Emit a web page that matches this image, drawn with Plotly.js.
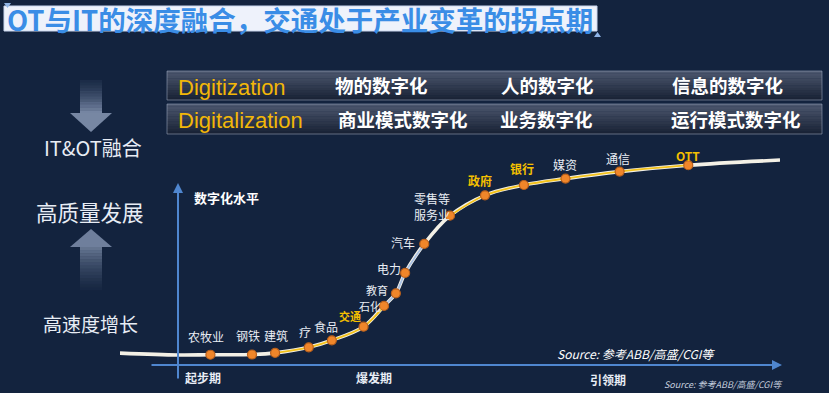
<!DOCTYPE html>
<html><head><meta charset="utf-8">
<script src="https://cdn.plot.ly/plotly-3.0.1.min.js"></script>
<style>html,body{margin:0;padding:0;background:#13233e;}#chart{width:829px;height:393px;}</style>
</head><body><div id="chart"></div>
<script>
// ---------------- DATA ----------------
const titleText = 'OT与IT的深度融合，交通处于产业变革的拐点期';
const rowHeaders = ['Digitization', 'Digitalization'];
const row1Items = ['物的数字化', '人的数字化', '信息的数字化'];
const row2Items = ['商业模式数字化', '业务数字化', '运行模式数字化'];
const leftLabels = ['IT&OT融合', '高质量发展', '高速度增长'];
const axisTitle = '数字化水平';
const stages = ['起步期', '爆发期', '引领期'];
const sourceText = 'Source: 参考ABB/高盛/CGI等';

const industries = ['农牧业', '钢铁', '建筑', '疗', '食品', '交通', '石化', '教育', '电力', '汽车', '零售等<br>服务业', '政府', '银行', '媒资', '通信', 'OTT'];
const industryStage = [13.7, 20.0, 23.5, 28.6, 32.1, 36.9, 40.0, 41.8, 43.2, 46.1, 50.0, 55.3, 61.2, 67.5, 75.7, 86.1];
const industryLevel = [4.5, 4.6, 5.4, 8.1, 11.5, 18.1, 28.2, 34.3, 44.2, 58.3, 72.0, 81.9, 86.9, 90.0, 93.4, 96.5];
const highlighted = ['交通', '政府', '银行', 'OTT'];
const curveStartStage = [0, 8.8];
const curveStartLevel = [5.3, 4.4];
const curveEndStage = [100];
const curveEndLevel = [99.0];

// ---------------- LAYOUT HELPERS ----------------
const W = 829, H = 393;
const X = p => p / W;
const Y = p => 1 - p / H;
const CJK = '"Noto Sans CJK SC", "Noto Sans", sans-serif';

const shapes = [];
const annotations = [];

function hexToRgb(h){h=h.replace('#','');return [parseInt(h.substr(0,2),16),parseInt(h.substr(2,2),16),parseInt(h.substr(4,2),16)];}
function vgrad(x0, x1, y0, y1, c0, c1, a0, a1, n) {
  const r0 = hexToRgb(c0), r1 = hexToRgb(c1);
  for (let i = 0; i < n; i++) {
    const t = n === 1 ? 0 : i / (n - 1);
    const c = r0.map((v, k) => Math.round(v + (r1[k] - v) * t));
    const a = a0 + (a1 - a0) * t;
    const ya = y0 + (y1 - y0) * i / n, yb = y0 + (y1 - y0) * (i + 1) / n + 0.3;
    shapes.push({type: 'rect', xref: 'paper', yref: 'paper', x0: X(x0), x1: X(x1), y0: Y(ya), y1: Y(yb),
      fillcolor: `rgba(${c[0]},${c[1]},${c[2]},${a.toFixed(3)})`, line: {width: 0}, layer: 'below'});
  }
}
function poly(pts, fill, line) {
  const d = pts.map((p, i) => (i ? 'L' : 'M') + X(p[0]).toFixed(5) + ',' + Y(p[1]).toFixed(5)).join(' ') + ' Z';
  shapes.push({type: 'path', xref: 'paper', yref: 'paper', path: d, fillcolor: fill, line: line || {width: 0}, layer: 'below'});
}
function txt(text, x, y, size, color, opts) {
  opts = opts || {};
  annotations.push(Object.assign({text, x: X(x), y: Y(y), xref: 'paper', yref: 'paper', showarrow: false,
    xanchor: opts.xanchor || 'left', yanchor: 'middle',
    font: {family: opts.family || CJK, size, color, weight: opts.weight || 'normal', style: opts.style || 'normal'}}));
}

// Title box
shapes.push({type: 'rect', xref: 'paper', yref: 'paper', x0: X(4), x1: X(597), y0: Y(6), y1: Y(31),
  fillcolor: '#eef2fb', line: {color: '#c9d6ee', width: 1}, layer: 'below'});
poly([[4, 3], [11, 3], [7.5, 8]], '#8fb4e6');
poly([[594, 37], [601, 37], [597.5, 32]], '#8fb4e6');
txt(titleText, 5, 19, 27.5, '#3a8de6', {weight: 'bold'});

// Two header rows
[[71, 100], [104, 134]].forEach(r => {
  vgrad(167, 822, r[0], r[1], '#4b566d', '#1a2336', 1, 1, 12);
  shapes.push({type: 'rect', xref: 'paper', yref: 'paper', x0: X(167), x1: X(822), y0: Y(r[0]), y1: Y(r[1]),
    fillcolor: 'rgba(0,0,0,0)', line: {color: 'rgba(160,172,195,0.55)', width: 1}, layer: 'below'});
});
txt(rowHeaders[0], 176, 87, 22, '#f2b708', {family: '"Liberation Sans", Arial, sans-serif'});
txt(rowHeaders[1], 176, 120, 22, '#f2b708', {family: '"Liberation Sans", Arial, sans-serif'});
const rowX1 = [333, 499, 670], rowX2 = [336, 498, 669];
row1Items.forEach((t, i) => txt(t, rowX1[i], 85, 18.5, '#ffffff', {weight: 'bold'}));
row2Items.forEach((t, i) => txt(t, rowX2[i], 119, 18.5, '#ffffff', {weight: 'bold'}));

// Left arrows
vgrad(80, 102, 80, 113, '#2a3a58', '#7585a2', 0.4, 1, 12);
poly([[70, 113], [112, 113], [91, 132]], '#7787a3');
poly([[70, 247], [112, 247], [91, 229]], '#6f7f9c');
vgrad(80, 102, 247, 290, '#64748f', '#1c2c48', 1, 0.5, 14);

txt(leftLabels[0], 93, 147, 20, '#e8edf5', {xanchor: 'center'});
txt(leftLabels[1], 90, 211, 21.5, '#e8edf5', {xanchor: 'center'});
txt(leftLabels[2], 90, 323, 19, '#e8edf5', {xanchor: 'center'});

// Axes with arrowheads
const axisColor = '#4f86cf';
annotations.push({x: X(178), y: Y(183), xref: 'paper', yref: 'paper', ax: 0, ay: 197, text: '', showarrow: true,
  arrowhead: 2, arrowsize: 1, arrowwidth: 2, arrowcolor: axisColor, standoff: 0, startstandoff: 0});
annotations.push({x: X(782), y: Y(365), xref: 'paper', yref: 'paper', ax: -632, ay: 0, text: '', showarrow: true,
  arrowhead: 2, arrowsize: 1, arrowwidth: 2, arrowcolor: axisColor, standoff: 0, startstandoff: 0});

txt(axisTitle, 192, 197, 13, '#ffffff', {weight: 'bold'});
const stageX = [203, 374, 608], stageY = [377, 377, 379];
stages.forEach((s, i) => txt(s, stageX[i], stageY[i], 12, '#e8edf5', {xanchor: 'center', weight: 'bold'}));
txt(sourceText, 636, 353, 12, '#ffffff', {xanchor: 'center', style: 'italic'});
txt(sourceText, 723, 384, 9, '#c7cfde', {xanchor: 'center', style: 'italic'});

// Industry labels
const labelShift = [[-4, -18], [-4, -19], [1, -17], [-4, -16], [-6, -14], [-14, -11], [-14, 0], [-19, -3], [-16, -4], [-21, -1], [-18, -9], [-5, -15], [-2, -16], [-1, -14], [-2, -13], [0, -10]];
const labelSize = [12, 12, 12, 12, 12, 11, 11, 11, 12, 12, 12, 12, 12, 12, 12, 12];
industries.forEach((n, i) => {
  const hi = highlighted.includes(n);
  annotations.push({x: industryStage[i], y: industryLevel[i], xref: 'x', yref: 'y', text: n, showarrow: false,
    xshift: labelShift[i][0], yshift: -labelShift[i][1], xanchor: 'center', yanchor: 'middle', borderpad: 0,
    font: {family: CJK, size: labelSize[i], color: hi ? '#f5c000' : '#e9edf4', weight: hi ? 'bold' : 'normal'}});
});

// ---------------- TRACES ----------------
const curveStage = [...curveStartStage, ...industryStage, ...curveEndStage];
const curveLevel = [...curveStartLevel, ...industryLevel, ...curveEndLevel];
const off = curveStartStage.length;
function seg(a, b, color, width) {
  const i0 = industries.indexOf(a) + off, i1 = industries.indexOf(b) + off;
  return {x: curveStage.slice(i0, i1 + 1), y: curveLevel.slice(i0, i1 + 1), mode: 'lines', type: 'scatter',
    line: {shape: 'spline', smoothing: 1, color, width}, cliponaxis: false, hoverinfo: 'skip'};
}
const traces = [
  {x: curveStage, y: curveLevel, mode: 'lines', type: 'scatter', line: {shape: 'spline', smoothing: 1, color: '#f3f0e6', width: 3.6}, cliponaxis: false, hoverinfo: 'skip'},
  seg('建筑', '石化', '#f3c21b', 1.8),
  seg('石化', '汽车', '#a9c1e4', 1.8),
  seg('零售等<br>服务业', 'OTT', '#f3c21b', 1.8),
  {x: industryStage, y: industryLevel, text: industries, mode: 'markers', type: 'scatter',
    marker: {size: 9, color: '#f0862a', line: {color: '#b9601c', width: 1.2}}, cliponaxis: false, hoverinfo: 'skip'}
];

const layout = {
  width: W, height: H, margin: {l: 0, r: 0, t: 0, b: 0},
  paper_bgcolor: '#13233e', plot_bgcolor: 'rgba(0,0,0,0)', showlegend: false,
  xaxis: {domain: [X(120), X(780)], range: [0, 100], visible: false, fixedrange: true},
  yaxis: {domain: [Y(364), Y(158)], range: [0, 100], visible: false, fixedrange: true},
  shapes, annotations
};
Plotly.newPlot('chart', traces, layout, {staticPlot: true, displayModeBar: false});
</script>
</body></html>
